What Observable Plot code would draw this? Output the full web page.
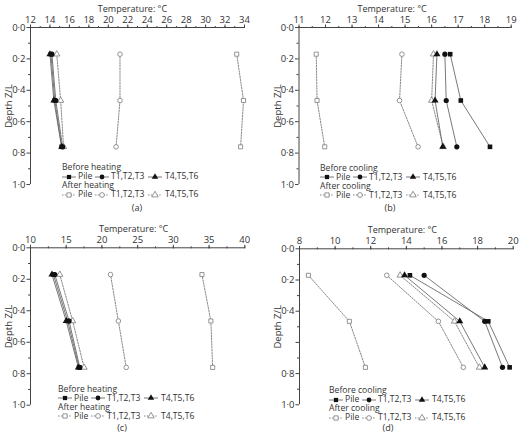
<!DOCTYPE html>
<html><head><meta charset="utf-8">
<script src="https://cdn.jsdelivr.net/npm/d3@7"></script>
<script src="https://cdn.jsdelivr.net/npm/@observablehq/plot@0.6"></script>
<style>
body{margin:0;background:#fff;font-family:"Open Sans",sans-serif;color:#333}
#grid{display:grid;grid-template-columns:260px 260px;width:520px}
.panel{position:relative;width:260px;height:219px}
.panel svg{display:block}
.legend{position:absolute;width:150px;font-family:"Open Sans",sans-serif;font-size:8.6px;white-space:nowrap;color:#333}
.legend .hd{display:block;height:9px;line-height:9px}
.legend .row{position:relative;height:9px}
.legend .row svg{position:absolute;top:0.5px}
.legend .row span{position:absolute;top:0;line-height:9px}
.cap{position:absolute;font-size:9px;line-height:9px;transform:translateX(-50%);color:#333}
</style></head><body><div id="grid"></div>
<script>
// depths (Z/L) of the sensor levels
const depth = [0.17, 0.465, 0.76];
const seriesNames = ["Pile", "T1,T2,T3", "T4,T5,T6"];
const symbolNames = ["square", "circle", "triangle"];

// (a) heating test 1
const aBeforePile = [14.1, 14.5, 15.2];
const aBeforeT123 = [14.2, 14.6, 15.3];
const aBeforeT456 = [14.0, 14.4, 15.2];
const aAfterPile = [33.2, 33.9, 33.6];
const aAfterT123 = [21.2, 21.2, 20.8];
const aAfterT456 = [14.7, 15.1, 15.4];
// (b) cooling test 1
const bBeforePile = [16.7, 17.1, 18.2];
const bBeforeT123 = [16.5, 16.55, 16.95];
const bBeforeT456 = [16.2, 16.13, 16.42];
const bAfterPile = [11.65, 11.68, 11.97];
const bAfterT123 = [14.88, 14.79, 15.49];
const bAfterT456 = [16.07, 16.0, 16.44];
// (c) heating test 2
const cBeforePile = [13.2, 15.2, 16.8];
const cBeforeT123 = [13.4, 15.4, 16.9];
const cBeforeT456 = [13.0, 15.0, 16.7];
const cAfterPile = [34.0, 35.25, 35.5];
const cAfterT123 = [21.2, 22.3, 23.4];
const cAfterT456 = [14.1, 15.9, 17.5];
// (d) cooling test 2
const dBeforePile = [14.2, 18.6, 19.8];
const dBeforeT123 = [15.0, 18.4, 19.4];
const dBeforeT456 = [13.9, 17.0, 18.4];
const dAfterPile = [8.5, 10.8, 11.7];
const dAfterT123 = [12.9, 15.8, 17.2];
const dAfterT456 = [13.65, 16.7, 18.1];

// axis tick settings
const aTicks = {domain: [12, 34], major: 2, minor: 1};
const bTicks = {domain: [11, 19], major: 1, minor: 0.5};
const cTicks = {domain: [10, 40], major: 5, minor: 2.5};
const dTicks = {domain: [8, 20], major: 2, minor: 1};
const yMajor = [0, 0.2, 0.4, 0.6, 0.8, 1.0];
const yMinor = [0.1, 0.3, 0.5, 0.7, 0.9];

// legend item layout (offsets within a legend row)
const sampleLeft = [0, 33, 86];
const labelLeft = [16, 49, 103];

const panels = [
  {id: "(a)", mode: "heating", ticks: aTicks, before: [aBeforePile, aBeforeT123, aBeforeT456], after: [aAfterPile, aAfterT123, aAfterT456],
   m: {top: 27, left: 30, right: 16, bottom: 14}, titleDx: -5, legend: {left: 62, top: 163.2}, cap: {x: 137, y: 202.5}, hideY: []},
  {id: "(b)", mode: "cooling", ticks: bTicks, before: [bBeforePile, bBeforeT123, bBeforeT456], after: [bAfterPile, bAfterT123, bAfterT456],
   m: {top: 27, left: 38.5, right: 9.3, bottom: 14}, titleDx: -13, legend: {left: 60, top: 163.5}, cap: {x: 130, y: 202.5}, hideY: []},
  {id: "(c)", mode: "heating", ticks: cTicks, before: [cBeforePile, cBeforeT123, cBeforeT456], after: [cAfterPile, cAfterT123, cAfterT456],
   m: {top: 28.3, left: 30, right: 15.7, bottom: 12.3}, titleDx: -4, legend: {left: 58, top: 165.8}, cap: {x: 122, y: 203.5}, hideY: []},
  {id: "(d)", mode: "cooling", ticks: dTicks, before: [dBeforePile, dBeforeT123, dBeforeT456], after: [dAfterPile, dAfterT123, dAfterT456],
   m: {top: 29.3, left: 39, right: 7.3, bottom: 12.7}, titleDx: -4, legend: {left: 69, top: 167.2}, cap: {x: 128, y: 204}, hideY: [0.6]}
];

const lineGray = "#6a6a6a";
const openGray = "#7a7a7a";

function rows(arrs) {
  const out = [];
  arrs.forEach((vals, i) => vals.forEach((t, j) => out.push({T: t, Z: depth[j], series: seriesNames[i]})));
  return out;
}
function range(a, b, s) { const r = []; for (let v = a; v <= b + 1e-9; v += s) r.push(+v.toFixed(4)); return r; }

function sampleSVG(sym, filled) {
  const w = 14, h = 8;
  const ns = "http://www.w3.org/2000/svg";
  const svg = document.createElementNS(ns, "svg");
  svg.setAttribute("width", w); svg.setAttribute("height", h);
  const line = document.createElementNS(ns, "line");
  line.setAttribute("x1", 0); line.setAttribute("x2", w); line.setAttribute("y1", h / 2); line.setAttribute("y2", h / 2);
  line.setAttribute("stroke", filled ? lineGray : openGray);
  line.setAttribute("stroke-width", 0.9);
  if (!filled) line.setAttribute("stroke-dasharray", "1.5,1.3");
  svg.appendChild(line);
  const symMap = {square: d3.symbolSquare, circle: d3.symbolCircle, triangle: d3.symbolTriangle};
  const path = document.createElementNS(ns, "path");
  path.setAttribute("d", d3.symbol(symMap[sym], 18)());
  path.setAttribute("transform", `translate(${w / 2},${h / 2})`);
  path.setAttribute("fill", filled ? "#111" : "white");
  path.setAttribute("stroke", filled ? "none" : openGray);
  path.setAttribute("stroke-width", 0.8);
  svg.appendChild(path);
  return svg;
}

const grid = document.getElementById("grid");
for (const p of panels) {
  const div = document.createElement("div");
  div.className = "panel";
  const before = rows(p.before), after = rows(p.after);
  const t = p.ticks;
  const chart = Plot.plot({
    width: 260, height: 198,
    marginTop: p.m.top, marginLeft: p.m.left, marginRight: p.m.right, marginBottom: p.m.bottom,
    style: {fontFamily: "Open Sans, sans-serif", fontSize: "9px", color: "#333", background: "white"},
    x: {domain: t.domain},
    y: {domain: [0, 1], reverse: true},
    symbol: {domain: seriesNames, range: symbolNames},
    marks: [
      Plot.axisX(range(t.domain[0], t.domain[1], t.minor), {anchor: "top", tickSize: 2, tickFormat: () => "", label: null, stroke: "#444"}),
      Plot.axisX(range(t.domain[0], t.domain[1], t.major), {anchor: "top", tickSize: 3.5, tickPadding: 1.5, label: null, stroke: "#444", fontSize: 9.5}),
      Plot.axisY(yMinor, {anchor: "left", tickSize: 2, tickFormat: () => "", label: null, stroke: "#444"}),
      Plot.axisY(yMajor, {anchor: "left", tickSize: 3.5, tickPadding: 1.5, stroke: "#444", fontSize: 9.5,
        tickFormat: d => p.hideY.includes(d) ? "" : d.toFixed(1).replace(".", "·"),
        label: "Depth Z/L", labelAnchor: "center", labelOffset: 25, labelArrow: "none"}),
      Plot.text(["Temperature: °C"], {frameAnchor: "top", dy: -22, dx: p.titleDx, fontSize: 9, fill: "#333"}),
      Plot.ruleY([0], {stroke: "#444", strokeWidth: 1}),
      Plot.ruleX([t.domain[0]], {stroke: "#444", strokeWidth: 1}),
      Plot.line(after, {x: "T", y: "Z", z: "series", stroke: openGray, strokeWidth: 0.9, strokeDasharray: "1.5,1.3"}),
      Plot.line(before, {x: "T", y: "Z", z: "series", stroke: lineGray, strokeWidth: 0.9}),
      Plot.dot(after, {x: "T", y: "Z", symbol: "series", r: 2.3, fill: "white", stroke: openGray, strokeWidth: 0.8}),
      Plot.dot(before, {x: "T", y: "Z", symbol: "series", r: 2.6, fill: "#111", stroke: "none"})
    ]
  });
  div.appendChild(chart);

  const lg = document.createElement("div");
  lg.className = "legend";
  lg.style.left = p.legend.left + "px";
  lg.style.top = p.legend.top + "px";
  for (const [phase, filled] of [["Before", true], ["After", false]]) {
    const h = document.createElement("div");
    h.className = "hd";
    h.textContent = `${phase} ${p.mode}`;
    lg.appendChild(h);
    const row = document.createElement("div");
    row.className = "row";
    seriesNames.forEach((name, i) => {
      const sv = sampleSVG(symbolNames[i], filled);
      sv.style.left = sampleLeft[i] + "px";
      row.appendChild(sv);
      const s = document.createElement("span");
      s.textContent = name;
      s.style.left = labelLeft[i] + "px";
      row.appendChild(s);
    });
    lg.appendChild(row);
  }
  div.appendChild(lg);

  const c = document.createElement("div");
  c.className = "cap";
  c.textContent = p.id;
  c.style.left = p.cap.x + "px";
  c.style.top = p.cap.y + "px";
  div.appendChild(c);
  grid.appendChild(div);
}
</script></body></html>
